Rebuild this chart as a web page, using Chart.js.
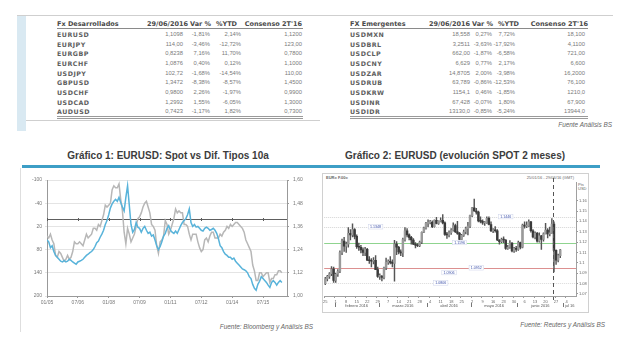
<!DOCTYPE html>
<html lang="es">
<head>
<meta charset="utf-8">
<script src="https://cdn.jsdelivr.net/npm/chart.js@4.4.1/dist/chart.umd.min.js"></script>
<style>
html,body{margin:0;padding:0;background:#fff;}
#page{position:relative;width:640px;height:344px;overflow:hidden;font-family:"Liberation Sans",Arial,sans-serif;color:#555;}
.abs{position:absolute;white-space:nowrap;transform:translateY(-50%);line-height:1;}
.box{position:absolute;}
.th{font:bold 6.5px "DejaVu Sans",sans-serif;color:#4a4a4a;}
.nm{font:bold 6.3px "DejaVu Sans",sans-serif;letter-spacing:0.5px;color:#5e5e5e;}
.vl{font:5.8px "Liberation Sans",Arial,sans-serif;color:#7a7a7a;}
.src{font:italic 6.4px "Liberation Sans",Arial,sans-serif;color:#666;}
.ttl{font:bold 10px "Liberation Sans",Arial,sans-serif;color:#3c3c3c;}
.tiny{font:4px "Liberation Sans",Arial,sans-serif;color:#666;}
canvas{position:absolute;}
</style>
</head>
<body>
<div id="page">
  <!-- upper panel with the two FX tables -->
  <div class="box" style="left:17px;top:15px;width:9px;height:116px;background:#d9e9f2"></div>
  <div class="box" style="left:17px;top:15px;width:596px;height:1px;background:#cfcfcf"></div>
  <div class="box" style="left:26px;top:120px;width:294px;height:1px;background:#cfcfcf"></div>

  <!-- lower panel -->
  <div class="box" style="left:20px;top:168px;width:1px;height:164px;background:#dedede"></div>
  <div class="box" style="left:22px;top:165px;width:578px;height:3px;background:#3d9ec6"></div>
  <div class="abs ttl" style="left:0;width:336px;text-align:center;top:155px">Gráfico 1: EURUSD: Spot vs Dif. Tipos 10a</div>
  <div class="abs ttl" style="left:310px;width:290px;text-align:center;top:155px">Gráfico 2: EURUSD (evolución SPOT 2 meses)</div>

  <canvas id="c1" width="298" height="150" style="left:20px;top:172px"></canvas>

  <div class="box" style="left:322px;top:173px;width:265px;height:138px;border:1px solid #d0d0d0"></div>
  <div class="abs tiny" style="left:326px;top:177px;font-weight:bold">EUR= F.00=</div>
  <div class="abs tiny" style="right:66px;top:177px">25/01/16 - 29/06/16 (GMT)</div>
  <div class="abs tiny" style="left:578px;top:184px">Pts</div>
  <div class="abs tiny" style="left:578px;top:188px">USD</div>
  <canvas id="c2" width="266" height="139" style="left:322px;top:173px"></canvas>

  <div class="abs src" style="right:327px;top:326px">Fuente: Bloomberg y Análisis BS</div>
  <div class="abs src" style="right:35px;top:324px">Fuente: Reuters y Análisis BS</div>
  <div class="abs src" style="right:28px;top:124px">Fuente Análisis BS</div>
</div>

<script>
// ---------- Tables: spot, change and consensus ----------
const tableDate = '29/06/2016';
const tableColumns = ['Var %', '%YTD', "Consenso 2T'16"];

const devTitle = 'Fx Desarrollados';
const devPairs = ['EURUSD','EURJPY','EURGBP','EURCHF','USDJPY','GBPUSD','USDCHF','USDCAD','AUDUSD'];
const devSpot  = ['1,1098','114,00','0,8238','1,0876','102,72','1,3472','0,9800','1,2992','0,7423'];
const devVar   = ['-1,81%','-3,46%','7,16%','0,40%','-1,68%','-8,38%','2,26%','1,55%','-1,17%'];
const devYtd   = ['2,14%','-12,72%','11,70%','0,12%','-14,54%','-8,57%','-1,97%','-6,05%','1,82%'];
const devCons  = ['1,1200','123,00','0,7800','1,1000','110,00','1,4500','0,9900','1,3000','0,7300'];

const emTitle = 'FX Emergentes';
const emPairs = ['USDMXN','USDBRL','USDCLP','USDCNY','USDZAR','USDRUB','USDKRW','USDINR','USDIDR'];
const emSpot  = ['18,558','3,2511','662,00','6,629','14,8705','63,789','1154,1','67,428','13130,0'];
const emVar   = ['0,27%','-3,63%','-1,87%','0,77%','2,00%','-0,86%','0,46%','-0,07%','-0,85%'];
const emYtd   = ['7,72%','-17,92%','-6,58%','2,17%','-3,98%','-12,53%','-1,85%','1,80%','-5,24%'];
const emCons  = ['18,100','4,1100','721,00','6,600','16,2000','76,100','1210,0','67,900','13944,0'];

const page = document.getElementById('page');
function put(text, x, cy, cls, align) {
  const d = document.createElement('div');
  d.className = 'abs ' + cls;
  d.textContent = text;
  if (align === 'right') d.style.right = (640 - x) + 'px';
  else d.style.left = x + 'px';
  d.style.top = cy + 'px';
  page.appendChild(d);
}
function rule(x, y, w, color) {
  const d = document.createElement('div');
  d.className = 'box';
  d.style.cssText = `left:${x}px;top:${y}px;width:${w}px;height:1px;background:${color}`;
  page.appendChild(d);
}
function drawTable(layout, title, pairs, spot, vr, ytd, cons) {
  const headY = 23.5;
  put(title, layout.x0, headY, 'th');
  put(tableDate, layout.head[0], headY, 'th', 'right');
  tableColumns.forEach((h, k) => put(h, layout.head[k + 1], headY, 'th', 'right'));
  rule(layout.x0, 28, layout.x1 - layout.x0, '#8a8a8a');
  pairs.forEach((p, i) => {
    const cy = 34 + i * 9.65;
    put(p, layout.x0, cy, 'nm');
    put(spot[i], layout.cols[0], cy, 'vl', 'right');
    put(vr[i],   layout.cols[1], cy, 'vl', 'right');
    put(ytd[i],  layout.cols[2], cy, 'vl', 'right');
    put(cons[i], layout.cols[3], cy, 'vl', 'right');
  });
  rule(layout.x0, 116, layout.x1 - layout.x0, '#9a9a9a');
  rule(layout.x0, 118, layout.x1 - layout.x0, '#9a9a9a');
}
drawTable({x0: 57, x1: 303, head: [188, 211, 237, 302], cols: [183, 210, 241, 302]},
          devTitle, devPairs, devSpot, devVar, devYtd, devCons);
drawTable({x0: 350, x1: 588, head: [470, 493, 519, 588], cols: [470, 492, 515, 585]},
          emTitle, emPairs, emSpot, emVar, emYtd, emCons);

// ---------- Chart 1: monthly spot vs 10y spread, Jan 2005 - Jun 2016 ----------
const spreadBp = [
  55,60,75,70,85,95,100,105,110,112,108,112,
  110,105,108,112,115,118,112,110,108,105,100,95,
  92,88,85,80,72,62,58,48,40,30,15,5,
  -10,-28,-38,-45,-50,-45,-55,-42,-30,-20,-55,-85,
  -35,15,35,28,10,22,25,35,25,20,30,38,
  35,45,42,55,70,80,72,60,45,38,25,18,
  30,35,38,32,38,28,18,10,5,0,-10,-25,
  10,20,15,22,20,25,30,32,25,22,25,30,
  28,25,30,38,52,70,75,85,92,95,100,100,
  105,102,110,115,120,125,130,132,135,140,150,155,
  170,180,185,170,162,150,155,160,165,172,178,165,
  160,165,172,165,160,165
];
const eurusdMonthly = [
  1.31,1.30,1.32,1.29,1.27,1.21,1.20,1.23,1.22,1.20,1.18,1.19,
  1.21,1.19,1.20,1.23,1.28,1.27,1.27,1.28,1.27,1.26,1.29,1.32,
  1.30,1.31,1.32,1.35,1.35,1.34,1.37,1.36,1.39,1.42,1.47,1.46,
  1.47,1.48,1.55,1.57,1.56,1.56,1.58,1.50,1.44,1.33,1.27,1.35,
  1.32,1.28,1.30,1.32,1.36,1.40,1.41,1.43,1.46,1.48,1.49,1.46,
  1.43,1.37,1.36,1.34,1.26,1.22,1.28,1.29,1.31,1.39,1.37,1.32,
  1.34,1.37,1.40,1.45,1.43,1.44,1.43,1.43,1.37,1.37,1.36,1.32,
  1.29,1.32,1.32,1.32,1.28,1.25,1.23,1.24,1.29,1.30,1.28,1.31,
  1.33,1.33,1.30,1.30,1.30,1.32,1.31,1.33,1.34,1.36,1.35,1.37,
  1.36,1.37,1.38,1.38,1.37,1.36,1.35,1.33,1.29,1.27,1.25,1.23,
  1.16,1.13,1.08,1.08,1.12,1.12,1.10,1.11,1.12,1.12,1.07,1.09,
  1.09,1.11,1.11,1.13,1.13,1.12
];
const spreadTicks = [-100, -40, 20, 80, 140, 200];
const spotTicks = [1.00, 1.12, 1.24, 1.36, 1.48, 1.60];
const monthTickPos = [0, 18, 36, 54, 72, 90, 108, 126];
const monthTickLabels = ['01/05','07/06','01/08','07/09','01/11','07/12','01/14','07/15'];

Chart.defaults.font.family = '"Liberation Sans", Arial, sans-serif';
Chart.defaults.animation = false;

const fixedLegendHeight = {
  id: 'fixedLegendHeight',
  beforeInit(chart) {
    const fit = chart.legend.fit;
    chart.legend.fit = function () { fit.call(this); this.height = 14; };
  }
};
const zeroLine = {
  id: 'zeroLine',
  beforeDatasetsDraw(chart) {
    const {ctx, chartArea: a, scales: {yL, x}} = chart;
    const y = Math.round(yL.getPixelForValue(0)) + 0.5;
    ctx.save();
    ctx.strokeStyle = '#5e5e5e';
    ctx.lineWidth = 1;
    ctx.beginPath();
    ctx.moveTo(a.left, y); ctx.lineTo(a.right, y);
    x.ticks.forEach(t => {
      const px = Math.round(x.getPixelForValue(t.value)) + 0.5;
      ctx.moveTo(px, y - 1.5); ctx.lineTo(px, y + 1.5);
    });
    ctx.stroke();
    ctx.restore();
  }
};

new Chart(document.getElementById('c1'), {
  type: 'line',
  data: {
    datasets: [
      {label: 'Dif. 10a EE.UU.-Euro (iz.vert.)', data: spreadBp.map((v, i) => ({x: i, y: v})),
       yAxisID: 'yL', borderColor: '#58b3da', backgroundColor: '#58b3da', borderWidth: 1.5, pointRadius: 0},
      {label: 'Euro-dólar (dcha.)', data: eurusdMonthly.map((v, i) => ({x: i, y: v})),
       yAxisID: 'yR', borderColor: '#b7b7b7', backgroundColor: '#b7b7b7', borderWidth: 1.5, pointRadius: 0}
    ]
  },
  options: {
    responsive: false, devicePixelRatio: 1,
    layout: {padding: {top: 8, left: 0, right: 0, bottom: 0}},
    plugins: {
      tooltip: {enabled: false},
      legend: {position: 'bottom', labels: {font: {size: 5}, color: '#777', boxWidth: 14, boxHeight: 1, padding: 22}}
    },
    scales: {
      x: {type: 'linear', min: 0, max: 140,
          afterBuildTicks: s => { s.ticks = monthTickPos.map(v => ({value: v})); },
          afterFit: s => { s.height = 12; },
          ticks: {callback: (v, i) => monthTickLabels[i], font: {size: 5}, color: '#777', maxRotation: 0, autoSkip: false, padding: 2},
          grid: {drawOnChartArea: false, tickLength: 2, color: '#999'},
          border: {color: '#999'}},
      yL: {position: 'left', reverse: true, min: -100, max: 200,
           afterBuildTicks: s => { s.ticks = spreadTicks.map(v => ({value: v})); },
           afterFit: s => { s.width = 27; },
           ticks: {font: {size: 5}, color: '#777', padding: 3},
           grid: {color: '#e4e4e4', tickLength: 2},
           border: {color: '#999'}},
      yR: {position: 'right', min: 1.0, max: 1.6,
           afterBuildTicks: s => { s.ticks = spotTicks.map(v => ({value: v})); },
           afterFit: s => { s.width = 31; },
           ticks: {font: {size: 5}, color: '#777', padding: 4, callback: v => v.toFixed(2).replace('.', ',')},
           grid: {drawOnChartArea: false, tickLength: 2, color: '#999'},
           border: {color: '#999'}}
    }
  },
  plugins: [fixedLegendHeight, zeroLine]
});

// ---------- Chart 2: daily EURUSD candles, 25 Jan - 29 Jun 2016 ----------
const sessionDay = [
  25,26,27,28,29,
  1,2,3,4,5,8,9,10,11,12,15,16,17,18,19,22,23,24,25,26,29,
  1,2,3,4,7,8,9,10,11,14,15,16,17,18,21,22,23,24,25,28,29,30,31,
  1,4,5,6,7,8,11,12,13,14,15,18,19,20,21,22,25,26,27,28,29,
  2,3,4,5,6,9,10,11,12,13,16,17,18,19,20,23,24,25,26,27,30,31,
  1,2,3,6,7,8,9,10,13,14,15,16,17,20,21,22,23,24,27,28,29,30,
  1,4,5,6,7,8
];
const monthNames = ['febrero 2016', 'marzo 2016', 'abril 2016', 'mayo 2016', 'junio 2016', 'jul 16'];

const sessionOpen = [
  1.0800,1.0845,1.0870,1.0895,1.0940,
  1.0830,1.0890,1.0920,1.1100,1.1210,1.1160,1.1180,1.1285,1.1270,1.1320,1.1255,1.1155,1.1150,1.1125,1.1100,1.1130,1.1025,1.1020,1.1015,1.1025,1.0935,
  1.0870,1.0870,1.0860,1.0950,1.1005,1.1015,1.1005,1.0995,1.1180,1.1150,1.1105,1.1095,1.1225,1.1310,1.1270,1.1245,1.1220,1.1180,1.1170,1.1165,1.1200,1.1295,1.1335,
  1.1380,1.1390,1.1390,1.1350,1.1410,1.1380,1.1400,1.1410,1.1385,1.1275,1.1270,1.1290,1.1315,1.1360,1.1300,1.1285,1.1225,1.1265,1.1300,1.1330,1.1355,
  1.1455,1.1530,1.1500,1.1490,1.1405,1.1400,1.1385,1.1385,1.1430,1.1370,1.1310,1.1315,1.1310,1.1220,1.1205,1.1225,1.1220,1.1140,1.1150,1.1190,1.1115,1.1140,
  1.1130,1.1195,1.1150,1.1365,1.1355,1.1355,1.1395,1.1310,1.1250,1.1285,1.1210,1.1260,1.1225,1.1280,1.1315,1.1280,1.1290,1.1375,1.1120,1.1025,1.1070
];
const sessionHigh = [
  1.0860,1.0880,1.0905,1.0965,1.0960,
  1.0900,1.0935,1.1115,1.1230,1.1245,1.1200,1.1340,1.1320,1.1376,1.1330,1.1270,1.1190,1.1170,1.1145,1.1150,1.1140,1.1060,1.1040,1.1050,1.1070,1.0960,
  1.0895,1.0880,1.0960,1.1045,1.1030,1.1060,1.1030,1.1218,1.1205,1.1160,1.1125,1.1240,1.1340,1.1330,1.1280,1.1255,1.1235,1.1195,1.1185,1.1210,1.1300,1.1345,1.1390,
  1.1415,1.1410,1.1405,1.1415,1.1440,1.1405,1.1435,1.1465,1.1395,1.1295,1.1310,1.1330,1.1385,1.1375,1.1400,1.1295,1.1275,1.1315,1.1345,1.1390,1.1460,
  1.1535,1.1616,1.1525,1.1500,1.1445,1.1415,1.1400,1.1445,1.1445,1.1395,1.1330,1.1350,1.1320,1.1225,1.1240,1.1250,1.1225,1.1170,1.1215,1.1195,1.1150,1.1160,
  1.1210,1.1200,1.1375,1.1395,1.1395,1.1415,1.1400,1.1320,1.1300,1.1295,1.1290,1.1265,1.1290,1.1380,1.1330,1.1345,1.1427,1.1395,1.1125,1.1085,1.1130
];
const sessionLow = [
  1.0790,1.0825,1.0850,1.0875,1.0810,
  1.0810,1.0870,1.0905,1.1080,1.1110,1.1100,1.1150,1.1220,1.1250,1.1230,1.1140,1.1120,1.1095,1.1070,1.1070,1.1020,1.0995,1.0960,1.0990,1.0935,1.0860,
  1.0840,1.0825,1.0845,1.0935,1.0985,1.0990,1.0960,1.0822,1.1080,1.1085,1.1070,1.1060,1.1210,1.1250,1.1220,1.1180,1.1175,1.1145,1.1155,1.1155,1.1185,1.1290,1.1325,
  1.1350,1.1375,1.1340,1.1345,1.1375,1.1370,1.1395,1.1375,1.1265,1.1235,1.1250,1.1275,1.1305,1.1290,1.1275,1.1215,1.1215,1.1255,1.1280,1.1270,1.1340,
  1.1445,1.1495,1.1470,1.1395,1.1385,1.1370,1.1360,1.1380,1.1365,1.1300,1.1290,1.1295,1.1215,1.1180,1.1195,1.1195,1.1130,1.1130,1.1140,1.1105,1.1100,1.1110,
  1.1120,1.1135,1.1145,1.1335,1.1340,1.1350,1.1295,1.1240,1.1230,1.1200,1.1200,1.1130,1.1210,1.1280,1.1240,1.1260,1.1285,1.0912,1.0985,1.1010,1.1050
];
const sessionClose = [
  1.0845,1.0870,1.0895,1.0940,1.0830,
  1.0890,1.0920,1.1100,1.1210,1.1160,1.1180,1.1285,1.1270,1.1320,1.1255,1.1155,1.1150,1.1125,1.1100,1.1130,1.1025,1.1020,1.1015,1.1025,1.0935,1.0870,
  1.0870,1.0860,1.0950,1.1005,1.1015,1.1005,1.0995,1.1180,1.1150,1.1105,1.1095,1.1225,1.1310,1.1270,1.1245,1.1220,1.1180,1.1170,1.1165,1.1200,1.1295,1.1335,1.1380,
  1.1390,1.1390,1.1350,1.1410,1.1380,1.1400,1.1410,1.1385,1.1275,1.1270,1.1290,1.1315,1.1360,1.1300,1.1285,1.1225,1.1265,1.1300,1.1330,1.1355,1.1455,
  1.1530,1.1500,1.1490,1.1405,1.1400,1.1385,1.1385,1.1430,1.1370,1.1310,1.1315,1.1310,1.1220,1.1205,1.1225,1.1220,1.1140,1.1150,1.1190,1.1115,1.1140,1.1130,
  1.1195,1.1150,1.1365,1.1355,1.1355,1.1395,1.1310,1.1250,1.1285,1.1210,1.1260,1.1225,1.1280,1.1315,1.1280,1.1290,1.1375,1.1120,1.1025,1.1070,1.1125
];
const priceTicks = [1.07, 1.08, 1.09, 1.10, 1.11, 1.12, 1.13, 1.14, 1.15, 1.16];

// horizontal reference levels and their labels
const levelValues = [1.1446, 1.1348, 1.1196, 1.0952, 1.0806];
const noteValues = [1.0906];
const levelStyles = [
  {color: '#d4d4d4', dash: [1, 1], at: 86},
  {color: '#d4d4d4', dash: [1, 1], at: 24},
  {color: '#8fd48f', dash: [], at: 64},
  {color: '#dc9090', dash: [], at: 72},
  {color: '#dadada', dash: [1, 1], at: 55}
];
const noteStyles = [{at: 59}];
const breakSession = 108.5;

function labelTag(ctx, x, y, text) {
  ctx.font = '3.6px "Liberation Sans", Arial, sans-serif';
  const w = ctx.measureText(text).width + 4;
  ctx.fillStyle = '#ffffff';
  ctx.fillRect(x - w / 2, y - 2.5, w, 5);
  ctx.strokeStyle = '#cdd3ea';
  ctx.lineWidth = 0.5;
  ctx.strokeRect(x - w / 2 + 0.25, y - 2.25, w - 0.5, 4.5);
  ctx.fillStyle = '#3a4ea8';
  ctx.textAlign = 'center';
  ctx.textBaseline = 'middle';
  ctx.fillText(text, x, y + 0.3);
}
const levels = {
  id: 'levels',
  beforeDatasetsDraw(chart) {
    const {ctx, chartArea: a, scales: {y}} = chart;
    ctx.save();
    levelValues.forEach((v, i) => {
      const py = Math.round(y.getPixelForValue(v)) + 0.5;
      ctx.strokeStyle = levelStyles[i].color;
      ctx.setLineDash(levelStyles[i].dash);
      ctx.lineWidth = 1;
      ctx.beginPath(); ctx.moveTo(a.left, py); ctx.lineTo(a.right, py); ctx.stroke();
    });
    ctx.restore();
  },
  afterDatasetsDraw(chart) {
    const {ctx, scales: {x, y}} = chart;
    ctx.save();
    levelValues.forEach((v, i) => labelTag(ctx, x.getPixelForValue(levelStyles[i].at), y.getPixelForValue(v), v.toFixed(4)));
    noteValues.forEach((v, i) => labelTag(ctx, x.getPixelForValue(noteStyles[i].at), y.getPixelForValue(v), v.toFixed(4)));
    // dashed marker between 23 and 24 June
    const px = Math.round((x.getPixelForValue(Math.floor(breakSession)) + x.getPixelForValue(Math.ceil(breakSession))) / 2) + 0.5;
    ctx.strokeStyle = '#555';
    ctx.lineWidth = 1;
    ctx.setLineDash([4, 3]);
    ctx.beginPath(); ctx.moveTo(px, 5); ctx.lineTo(px, chart.chartArea.bottom + 4); ctx.stroke();
    ctx.restore();
  }
};
const monthRow = {
  id: 'monthRow',
  afterDraw(chart) {
    const {ctx, chartArea: a, scales: {x}} = chart;
    const starts = [];
    sessionDay.forEach((d, i) => { if (i > 0 && d < sessionDay[i - 1]) starts.push(i); });
    const edge = i => (x.getPixelForValue(i - 1) + x.getPixelForValue(i)) / 2;
    ctx.save();
    ctx.font = '4px "Liberation Sans", Arial, sans-serif';
    ctx.fillStyle = '#555';
    ctx.textAlign = 'center';
    ctx.textBaseline = 'middle';
    starts.forEach((s, k) => {
      const left = edge(s);
      const right = k + 1 < starts.length ? edge(starts[k + 1]) : a.right;
      ctx.fillRect(Math.round(left), a.bottom + 7, 0.8, 4);
      ctx.fillText(monthNames[k], (left + right) / 2, a.bottom + 10);
    });
    ctx.restore();
  }
};

new Chart(document.getElementById('c2'), {
  type: 'bar',
  data: {
    labels: sessionDay,
    datasets: [
      {label: 'Apertura-cierre', data: sessionOpen.map((o, i) => [o, sessionClose[i]]),
       backgroundColor: sessionOpen.map((o, i) => sessionClose[i] >= o ? '#9a9a9a' : '#3a3a3a'),
       barThickness: 1.8, minBarLength: 1, grouped: false},
      {label: 'Máximo-mínimo', data: sessionLow.map((l, i) => [l, sessionHigh[i]]),
       backgroundColor: '#555555', barThickness: 0.8, grouped: false}
    ]
  },
  options: {
    responsive: false, devicePixelRatio: 1,
    layout: {padding: {top: 9, left: 2, right: 0, bottom: 0}},
    plugins: {legend: {display: false}, tooltip: {enabled: false}},
    scales: {
      x: {type: 'category', offset: true,
          afterFit: s => { s.height = 16; },
          ticks: {autoSkip: false, maxRotation: 0, font: {size: 4}, color: '#666', padding: 1,
                  callback: (v, i) => i % 5 === 0 ? String(sessionDay[i]) : ''},
          grid: {drawOnChartArea: false, tickLength: 2, color: c => c.index % 5 === 0 ? '#999' : 'rgba(0,0,0,0)'},
          border: {color: '#a0a0a0'}},
      y: {position: 'right', min: 1.068, max: 1.178,
          afterBuildTicks: s => { s.ticks = priceTicks.map(v => ({value: v})); },
          afterFit: s => { s.width = 12; },
          ticks: {font: {size: 4}, color: '#666', padding: 1, callback: v => String(Number(v.toFixed(2)))},
          grid: {drawOnChartArea: false, tickLength: 2, color: '#999'},
          border: {color: '#a0a0a0'}}
    }
  },
  plugins: [levels, monthRow]
});
</script>
</body>
</html>
